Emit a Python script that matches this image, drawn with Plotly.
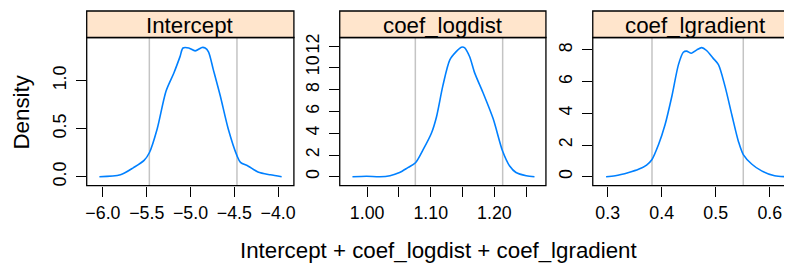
import plotly.graph_objects as go

# browser body margin offset (px) is compensated by shifting every coordinate
OFF = 8
W, H = 792 - OFF, 268 - OFF

# ---- data ----
panel_names = ["Intercept", "coef_logdist", "coef_lgradient"]

int_x = [-6.04, -5.80, -5.65, -5.53, -5.47, -5.38, -5.28, -5.19, -5.12, -5.086, -5.02,
         -4.947, -4.87, -4.833, -4.795, -4.74, -4.66, -4.57, -4.47, -4.43, -4.34, -4.23, -4.09, -3.96]
int_y = [0.0, 0.02, 0.095, 0.17, 0.25, 0.50, 0.89, 1.08, 1.25, 1.34, 1.34,
         1.31, 1.345, 1.34, 1.30, 1.115, 0.84, 0.50, 0.22, 0.15, 0.11, 0.05, 0.02, 0.0]

log_x = [0.977, 0.999, 1.020, 1.036, 1.051, 1.064, 1.076, 1.088, 1.101, 1.109, 1.119, 1.130,
         1.140, 1.148, 1.153, 1.161, 1.169, 1.182, 1.198, 1.213, 1.224, 1.234, 1.250, 1.263]
log_y = [0.0, 0.05, 0.0, 0.1, 0.39, 0.84, 1.29, 2.49, 4.0, 5.5, 8.35, 10.75,
         11.5, 11.9, 11.87, 11.05, 9.55, 7.75, 5.35, 2.34, 0.99, 0.39, 0.09, 0.0]

lgr_x = [0.297, 0.314, 0.339, 0.357, 0.372, 0.382, 0.394, 0.406, 0.419, 0.431, 0.440, 0.446,
         0.455, 0.465, 0.474, 0.483, 0.495, 0.505, 0.517, 0.530, 0.542, 0.551, 0.567, 0.585,
         0.609, 0.634]
lgr_y = [0.0, 0.06, 0.27, 0.47, 0.74, 1.09, 2.02, 3.26, 5.11, 7.07, 7.85, 7.92,
         7.79, 8.0, 8.14, 7.96, 7.48, 7.07, 5.73, 3.88, 2.23, 1.40, 0.79, 0.37,
         0.06, 0.0]

quantiles = [[-5.47, -4.47], [1.0758, 1.213], [0.382, 0.551]]

x_ticks = [[-6.0, -5.5, -5.0, -4.5, -4.0],
           [1.00, 1.05, 1.10, 1.15, 1.20, 1.25],
           [0.3, 0.4, 0.5, 0.6]]
x_labels = [["\u22126.0", "\u22125.5", "\u22125.0", "\u22124.5", "\u22124.0"],
            ["1.00", "", "1.10", "", "1.20", ""],
            ["0.3", "0.4", "0.5", "0.6"]]
y_ticks = [[0.0, 0.5, 1.0], [0, 2, 4, 6, 8, 10, 12], [0, 2, 4, 6, 8]]
y_labels = [["0.0", "0.5", "1.0"], ["0", "2", "4", "6", "8", "10", "12"], ["0", "2", "4", "6", "8"]]

x_title = "Intercept + coef_logdist + coef_lgradient"
y_title = "Density"

# ---- layout geometry (pixels in the 792x268 window) ----
panel_px = [(86, 294), (340, 547), (594, 801)]
plot_top, plot_bot, strip_top = 34, 185, 7
x_ranges = [[-6.185, -3.82], [0.957, 1.281], [0.27233, 0.27233 + (792 - 594) / 542.2]]
y_ranges = [[-0.092, 1.449], [-0.81, 12.8], [-0.557, 8.78]]


def px(x):
    return (x - OFF) / W


def py(y):
    return 1 - (y - OFF) / H


curve_col = "#0080ff"
font_fam = "Liberation Sans, Arial, Helvetica, sans-serif"

fig = go.Figure()
curves = [(int_x, int_y), (log_x, log_y), (lgr_x, lgr_y)]
shapes = []
annotations = []
for i in range(3):
    sfx = "" if i == 0 else str(i + 1)
    cx, cy = curves[i]
    fig.add_trace(go.Scatter(x=cx, y=cy, mode="lines",
                             line=dict(color=curve_col, width=1.6, shape="spline", smoothing=0.8),
                             xaxis="x" + sfx, yaxis="y" + sfx, showlegend=False, hoverinfo="skip"))
    for q in quantiles[i]:
        shapes.append(dict(type="line", xref="x" + sfx, yref="y" + sfx + " domain",
                           x0=q, x1=q, y0=0, y1=1, layer="below",
                           line=dict(color="#c4c4c4", width=1.5)))
    l, r = panel_px[i]
    dom_r = min(r, 792)
    fig.update_layout(**{
        "xaxis" + sfx: dict(domain=[px(l), min(px(dom_r), 1.0)], range=x_ranges[i], anchor="y" + sfx,
                            tickmode="array", tickvals=x_ticks[i], ticktext=x_labels[i],
                            ticks="outside", ticklen=10, tickwidth=1.2, tickcolor="black",
                            ticklabelstandoff=1,
                            showgrid=False, zeroline=False, showline=False,
                            tickfont=dict(size=17.8, color="black", family=font_fam)),
        "yaxis" + sfx: dict(domain=[py(plot_bot), py(plot_top)], range=y_ranges[i], anchor="x" + sfx,
                            tickmode="array", tickvals=y_ticks[i], ticktext=y_labels[i],
                            ticks="outside", ticklen=10, tickwidth=1.2, tickcolor="black",
                            tickangle=-90, ticklabelstandoff=3,
                            showgrid=False, zeroline=False, showline=False,
                            tickfont=dict(size=17.8, color="black", family=font_fam)),
    })
    # panel box
    shapes.append(dict(type="rect", xref="paper", yref="paper",
                       x0=px(l), x1=px(r), y0=py(plot_bot), y1=py(plot_top),
                       line=dict(color="black", width=1.3), fillcolor="rgba(0,0,0,0)", layer="above"))
    # strip
    shapes.append(dict(type="rect", xref="paper", yref="paper",
                       x0=px(l), x1=px(r), y0=py(plot_top), y1=py(strip_top),
                       line=dict(color="black", width=1.3), fillcolor="#ffe5cc", layer="above"))
    annotations.append(dict(text=panel_names[i], xref="paper", yref="paper",
                            x=px((l + r) / 2), y=py((plot_top + strip_top) / 2 + 1),
                            xanchor="center", yanchor="middle", showarrow=False,
                            font=dict(size=22.3, color="black", family=font_fam)))

annotations.append(dict(text=x_title, xref="paper", yref="paper",
                        x=px(439), y=py(251), xanchor="center", yanchor="middle",
                        showarrow=False, font=dict(size=22.3, color="black", family=font_fam)))
annotations.append(dict(text=y_title, xref="paper", yref="paper",
                        x=px(21), y=py(109.5), xanchor="center", yanchor="middle", textangle=-90,
                        showarrow=False, font=dict(size=22.3, color="black", family=font_fam)))

fig.update_layout(width=W, height=H, autosize=False,
                  margin=dict(l=0, r=0, t=0, b=0, pad=0),
                  paper_bgcolor="white", plot_bgcolor="white",
                  shapes=shapes, annotations=annotations,
                  font=dict(family=font_fam, color="black"))

fig.write_html("out.html")
